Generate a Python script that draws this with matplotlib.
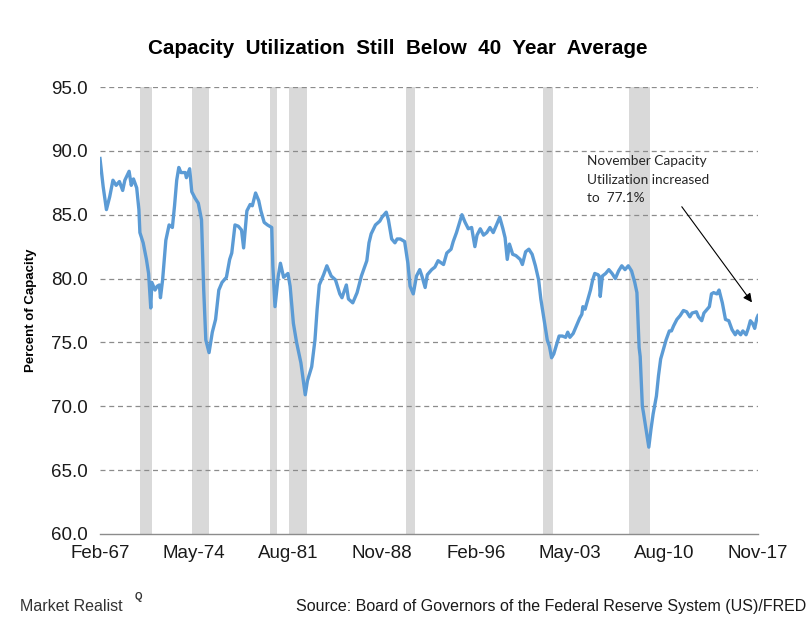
import matplotlib
matplotlib.use('Agg')
import matplotlib.pyplot as plt
import matplotlib.dates as mdates
import pandas as pd

# 产能利用率（%），按参考图读数，月份 + 数值
dates = [
    '1967-02', '1967-05', '1967-08', '1967-11', '1968-02', '1968-05', '1968-08', '1968-11',
    '1969-01', '1969-05', '1969-07', '1969-09', '1969-12', '1970-02', '1970-03', '1970-06',
    '1970-09', '1970-11', '1971-01', '1971-02', '1971-05', '1971-07', '1971-09', '1971-10',
    '1971-12', '1972-03', '1972-06', '1972-09', '1972-11', '1973-01', '1973-03', '1973-05',
    '1973-09', '1973-10', '1974-01', '1974-03', '1974-06', '1974-09', '1974-12', '1975-02',
    '1975-04', '1975-07', '1975-10', '1976-01', '1976-04', '1976-07', '1976-11', '1977-02',
    '1977-04', '1977-07', '1977-10', '1978-01', '1978-03', '1978-06', '1978-09', '1978-11',
    '1979-02', '1979-05', '1979-07', '1979-10', '1980-01', '1980-05', '1980-06', '1980-08',
    '1980-11', '1981-01', '1981-04', '1981-08', '1981-10', '1982-01', '1982-04', '1982-08',
    '1982-12', '1983-02', '1983-06', '1983-09', '1983-11', '1984-01', '1984-05', '1984-08',
    '1984-12', '1985-04', '1985-08', '1985-10', '1986-02', '1986-04', '1986-08', '1986-12',
    '1987-04', '1987-09', '1987-11', '1988-01', '1988-05', '1988-09', '1988-11', '1989-03',
    '1989-05', '1989-08', '1989-11', '1990-01', '1990-04', '1990-08', '1990-11', '1991-01',
    '1991-04', '1991-07', '1991-10', '1991-12', '1992-03', '1992-05', '1992-09', '1992-12',
    '1993-03', '1993-08', '1993-11', '1994-03', '1994-05', '1994-08', '1995-01', '1995-04',
    '1995-07', '1995-10', '1996-01', '1996-03', '1996-06', '1996-09', '1996-12', '1997-03',
    '1997-06', '1997-12', '1998-03', '1998-05', '1998-07', '1998-09', '1998-12', '1999-03',
    '1999-07', '1999-09', '1999-12', '2000-03', '2000-06', '2000-09', '2000-12', '2001-02',
    '2001-05', '2001-08', '2001-10', '2001-12', '2002-02', '2002-07', '2002-10', '2003-01',
    '2003-03', '2003-05', '2003-08', '2003-11', '2004-02', '2004-04', '2004-05', '2004-07',
    '2004-09', '2004-12', '2005-02', '2005-04', '2005-07', '2005-08', '2005-09', '2005-11',
    '2006-02', '2006-05', '2006-08', '2006-11', '2007-02', '2007-05', '2007-08', '2007-11',
    '2008-02', '2008-05', '2008-07', '2008-09', '2008-10', '2008-12', '2009-01', '2009-04',
    '2009-06', '2009-08', '2009-10', '2010-01', '2010-03', '2010-05', '2010-08', '2010-10',
    '2011-01', '2011-03', '2011-05', '2011-08', '2011-11', '2012-02', '2012-05', '2012-08',
    '2012-10', '2013-02', '2013-04', '2013-07', '2013-09', '2013-12', '2014-02', '2014-04',
    '2014-06', '2014-09', '2014-11', '2015-02', '2015-05', '2015-08', '2015-11', '2016-02',
    '2016-04', '2016-07', '2016-09', '2016-12', '2017-02', '2017-04', '2017-06', '2017-08',
    '2017-10', '2017-11',
]
values = [
    89.4, 87.2, 85.4, 86.4, 87.7, 87.3, 87.6, 86.9,
    87.7, 88.4, 87.3, 87.8, 87.1, 85.4, 83.6, 82.8,
    81.5, 80.4, 77.7, 79.7, 79.1, 79.4, 79.5, 78.5,
    79.9, 83.0, 84.2, 84.0, 85.7, 87.7, 88.7, 88.3,
    88.3, 87.9, 88.6, 86.8, 86.3, 85.9, 84.6, 79.1,
    75.2, 74.2, 75.8, 76.8, 79.1, 79.7, 80.1, 81.5,
    82.0, 84.2, 84.1, 83.8, 82.4, 85.3, 85.8, 85.7,
    86.7, 86.1, 85.3, 84.4, 84.2, 84.0, 81.0, 77.8,
    80.2, 81.2, 80.1, 80.4, 79.4, 76.5, 75.0, 73.4,
    70.9, 72.0, 73.1, 75.2, 77.6, 79.5, 80.3, 81.0,
    80.2, 79.9, 78.8, 78.5, 79.5, 78.4, 78.1, 78.9,
    80.2, 81.4, 82.8, 83.5, 84.2, 84.5, 84.8, 85.2,
    84.6, 83.1, 82.8, 83.1, 83.1, 82.9, 81.2, 79.4,
    78.8, 80.2, 80.7, 80.2, 79.3, 80.3, 80.7, 80.9,
    81.4, 81.1, 82.0, 82.3, 82.9, 83.6, 85.0, 84.4,
    83.9, 84.0, 82.5, 83.4, 83.9, 83.4, 83.6, 84.0,
    83.6, 84.8, 83.9, 83.2, 81.5, 82.7, 81.9, 81.8,
    81.5, 81.1, 82.1, 82.3, 81.9, 81.0, 79.9, 78.4,
    76.8, 75.2, 74.7, 73.8, 74.1, 75.5, 75.5, 75.4,
    75.8, 75.4, 75.7, 76.3, 76.9, 77.2, 77.8, 77.6,
    78.2, 79.1, 79.9, 80.4, 80.3, 80.2, 78.6, 80.2,
    80.4, 80.7, 80.4, 80.0, 80.6, 81.0, 80.7, 81.0,
    80.6, 79.7, 78.9, 74.6, 73.9, 70.0, 69.5, 67.9,
    66.8, 68.2, 69.4, 70.8, 72.4, 73.7, 74.6, 75.2,
    75.9, 75.9, 76.3, 76.8, 77.1, 77.5, 77.4, 77.0,
    77.3, 77.4, 77.0, 76.7, 77.3, 77.6, 77.8, 78.8,
    78.9, 78.8, 79.1, 78.1, 76.8, 76.7, 76.0, 75.6,
    75.9, 75.6, 75.9, 75.6, 76.1, 76.7, 76.5, 76.1,
    76.9, 77.1,
]

# 灰色阴影（衰退期），按参考图位置
rec_start = ['1970-03', '1974-03', '1980-03', '1981-09', '1990-09', '2001-04', '2007-12']
rec_end = ['1971-02', '1975-07', '1980-10', '1983-02', '1991-06', '2002-01', '2009-07']

y_ticks = [60, 65, 70, 75, 80, 85, 90, 95]
x_ticks = ['1967-02', '1974-05', '1981-08', '1988-11', '1996-02', '2003-05', '2010-08', '2017-11']

plt.rcParams['font.family'] = ['Liberation Sans', 'DejaVu Sans']

dt = pd.to_datetime(dates)
fig = plt.figure(figsize=(8.11, 6.25), dpi=100)
ax = fig.add_axes([0.1233, 0.1456, 0.8113, 0.7152])

# 衰退期阴影
for s, e in zip(rec_start, rec_end):
    ax.axvspan(pd.Timestamp(s), pd.Timestamp(e), color='#d9d9d9', lw=0, zorder=0)

ax.plot(dt, values, color='#5b9bd5', lw=2.4, solid_joinstyle='round', zorder=3)

ax.set_xlim(pd.Timestamp(x_ticks[0]), pd.Timestamp(x_ticks[-1]))
ax.set_ylim(60, 95)
ax.set_yticks(y_ticks)
ax.set_yticklabels([f'{v:.1f}' for v in y_ticks])
ax.set_xticks(pd.to_datetime(x_ticks))
ax.xaxis.set_major_formatter(mdates.DateFormatter('%b-%y'))
ax.tick_params(length=0, labelsize=13.5, colors='#1a1a1a')
ax.tick_params(axis='y', pad=9)
ax.tick_params(axis='x', pad=8)

# 虚线网格
for v in y_ticks[1:]:
    ax.axhline(v, color='#8c8c8c', lw=0.9, ls=(0, (4, 3)), zorder=1)

for side in ['top', 'right', 'left']:
    ax.spines[side].set_visible(False)
ax.spines['bottom'].set_color('#8c8c8c')
ax.spines['bottom'].set_linewidth(1.0)

ax.set_ylabel('Percent of Capacity', fontweight='bold', fontsize=9.5)
ax.yaxis.set_label_coords(-0.095, 0.5)

fig.text(0.49, 0.923, 'Capacity  Utilization  Still  Below  40  Year  Average',
         ha='center', va='center', fontsize=14.9, fontweight='bold')

# 注释与箭头
ax.annotate('', xy=(pd.Timestamp('2017-07'), 77.96), xytext=(pd.Timestamp('2011-11'), 85.8),
            arrowprops=dict(arrowstyle='-|>', color='black', lw=0.8, mutation_scale=13))
fig.text(0.7234, 0.752, 'November Capacity\nUtilization increased\nto  77.1%',
         ha='left', va='top', fontsize=9.8, family=['Lato', 'DejaVu Sans'],
         color='#262626', linespacing=1.65)

# 底部来源
fig.text(0.025, 0.03, 'Market Realist', ha='left', va='center', fontsize=11.5, color='#333333')
fig.text(0.166, 0.045, 'Q', ha='left', va='center', fontsize=7, fontweight='bold', color='#333333')
fig.text(0.994, 0.03, 'Source: Board of Governors of the Federal Reserve System (US)/FRED',
         ha='right', va='center', fontsize=11.5, color='#1a1a1a')

fig.savefig('out.png', dpi=100)
